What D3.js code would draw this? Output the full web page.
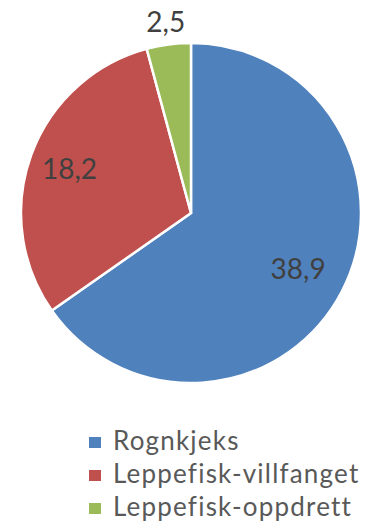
<!DOCTYPE html>
<html><head><meta charset="utf-8">
<script src="https://cdn.jsdelivr.net/npm/d3@7"></script>
<style>html,body{margin:0;padding:0;background:#fff;}svg{display:block;}</style>
</head><body>
<script>
const categories = ["Rognkjeks", "Leppefisk-villfanget", "Leppefisk-oppdrett"];
const values = [38.9, 18.2, 2.5];
const labels = ["38,9", "18,2", "2,5"];
const colors = ["#4F81BD", "#C0504D", "#9BBB59"];

const W = 369, H = 528;
const cx = 191, cy = 213, R = 170;
const font = "Lato, 'Open Sans', sans-serif";

const svg = d3.select("body").append("svg").attr("width", W).attr("height", H);
const pie = d3.pie().sort(null).value(d => d)(values);
const arc = d3.arc().innerRadius(0).outerRadius(R);
const g = svg.append("g").attr("transform", `translate(${cx},${cy})`);
g.selectAll("path").data(pie).join("path")
  .attr("d", arc).attr("fill", (d, i) => colors[i])
  .attr("stroke", "#fff").attr("stroke-width", 2.5).attr("stroke-linejoin", "miter");

const labelR = [0.71 * R, 0.76 * R, R + 22];
g.selectAll("text").data(pie).join("text")
  .attr("transform", (d, i) => {
    const c = d3.arc().innerRadius(labelR[i]).outerRadius(labelR[i]).centroid(d);
    return `translate(${c[0]},${c[1]})`;
  })
  .attr("text-anchor", "middle").attr("dy", "0.35em")
  .attr("font-family", font).attr("font-size", 28).attr("fill", "#404040")
  .text((d, i) => labels[i]);

const leg = svg.append("g").attr("transform", "translate(89,441)");
const rows = leg.selectAll("g").data(categories).join("g")
  .attr("transform", (d, i) => `translate(0,${i * 33})`);
rows.append("rect").attr("x", 0).attr("y", -4).attr("width", 12).attr("height", 11)
  .attr("fill", (d, i) => colors[i]);
rows.append("text").attr("x", 24).attr("dy", "0.36em")
  .attr("font-family", font).attr("font-size", 26).attr("letter-spacing", 1.2)
  .attr("fill", "#595959")
  .text(d => d);
</script>
</body></html>
